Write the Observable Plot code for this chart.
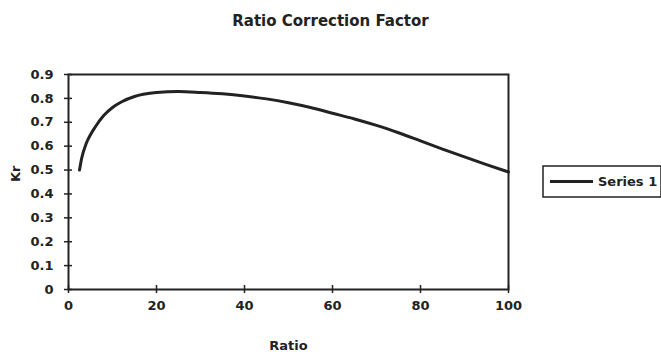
<!DOCTYPE html>
<html>
<head>
<meta charset="utf-8">
<script src="https://cdn.jsdelivr.net/npm/d3@7"></script>
<script src="https://cdn.jsdelivr.net/npm/@observablehq/plot@0.6"></script>
<style>
  html, body { margin: 0; padding: 0; background: #fff; }
  svg { display: block; }
</style>
</head>
<body>
<div id="chart"></div>
<script>
const title = "Ratio Correction Factor";
const xLabel = "Ratio";
const yLabel = "Kr";
const seriesName = "Series 1";
const xTicks = [0, 20, 40, 60, 80, 100];
const yTicks = [0, 0.1, 0.2, 0.3, 0.4, 0.5, 0.6, 0.7, 0.8, 0.9];
const ratio = [2.5, 3, 4, 5, 6, 8, 10, 12, 15, 17, 20, 25, 30, 35, 40, 45, 50, 55, 60, 65, 70, 75, 80, 85, 90, 95, 100];
const kr    = [0.50, 0.55, 0.61, 0.648, 0.678, 0.728, 0.762, 0.785, 0.808, 0.817, 0.825, 0.829, 0.825, 0.819, 0.810, 0.798, 0.782, 0.762, 0.738, 0.714, 0.687, 0.656, 0.622, 0.588, 0.555, 0.523, 0.492];

const data = ratio.map((r, i) => ({ratio: r, kr: kr[i]}));

const W = 661, H = 354;
const mL = 68, mR = 153, mT = 74, mB = 65;
const font = "'DejaVu Sans', sans-serif";
const ink = "#222";

const chart = Plot.plot({
  width: W,
  height: H,
  marginLeft: mL,
  marginRight: mR,
  marginTop: mT,
  marginBottom: mB,
  style: {fontFamily: font, fontSize: "13px", fontWeight: "bold", color: ink, background: "#fff"},
  x: {domain: [0, 100], ticks: xTicks, label: null},
  y: {domain: [0, 0.9], ticks: yTicks, label: null},
  marks: [
    Plot.frame({stroke: ink, strokeWidth: 2}),
    Plot.ruleX(xTicks, {x: d => d, y1: 0, y2: 0, stroke: ink, strokeWidth: 1.5, insetTop: -4, insetBottom: -4}),
    Plot.ruleY(yTicks, {y: d => d, x1: 0, x2: 0, stroke: ink, strokeWidth: 1.5, insetLeft: -4, insetRight: -4}),
    Plot.axisX({ticks: xTicks, tickSize: 0, tickPadding: 11, tickFormat: d => d, fontSize: 13, label: null}),
    Plot.axisY({ticks: yTicks, tickSize: 0, tickPadding: 15, tickFormat: d => d, fontSize: 13, label: null}),
    Plot.line(data, {x: "ratio", y: "kr", stroke: ink, strokeWidth: 3, curve: "monotone-x"}),
    Plot.text([xLabel], {frameAnchor: "bottom", dy: 60, text: d => d, fontSize: 13}),
    Plot.text([yLabel], {frameAnchor: "left", dx: -53, rotate: -90, text: d => d, fontSize: 13})
  ]
});

const svg = d3.select(chart);
// title centred on the page
svg.append("text").attr("x", W / 2).attr("y", 26).attr("text-anchor", "middle")
  .attr("font-family", font).attr("font-size", 15).attr("font-weight", "bold").attr("fill", ink)
  .text(title);

// legend
const lg = svg.append("g").attr("transform", `translate(${W - mR + 35},166)`);
lg.append("rect").attr("x", 0).attr("y", 0).attr("width", 118).attr("height", 31)
  .attr("fill", "#fff").attr("stroke", ink).attr("stroke-width", 1.5);
lg.append("line").attr("x1", 7).attr("x2", 50).attr("y1", 15.5).attr("y2", 15.5)
  .attr("stroke", ink).attr("stroke-width", 3);
lg.append("text").attr("x", 55).attr("y", 15.5).attr("dy", "0.35em").attr("text-anchor", "start")
  .attr("font-family", font).attr("font-size", 13).attr("font-weight", "bold").attr("fill", ink)
  .text(seriesName);

document.getElementById("chart").appendChild(chart);
</script>
</body>
</html>
